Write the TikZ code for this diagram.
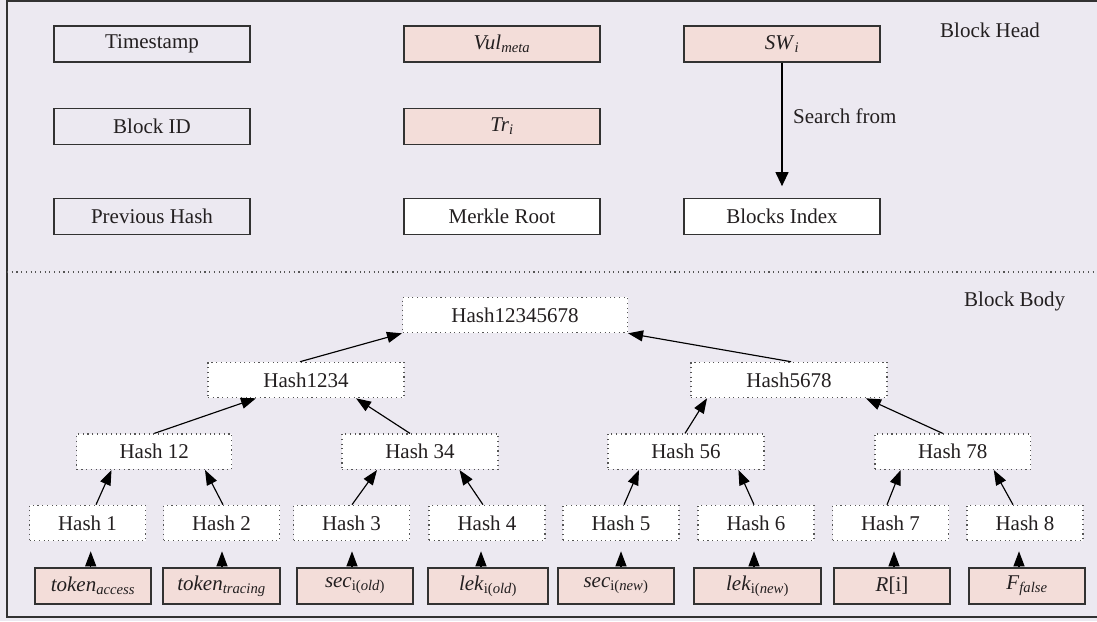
\documentclass[tikz,border=0pt]{standalone}
\usepackage{fontspec}
\setmainfont{Liberation Serif}
\usetikzlibrary{arrows.meta}
\definecolor{bgc}{RGB}{236,233,241}
\definecolor{pinkc}{RGB}{243,221,217}
\definecolor{linec}{RGB}{50,50,50}
\definecolor{dotc}{RGB}{85,85,85}
\definecolor{txtc}{RGB}{35,31,32}
\newcommand{\itx}[1]{\textit{#1}}
\newcommand{\subx}[1]{\textsubscript{#1}}
\begin{document}
\begin{tikzpicture}[x=1pt,y=-1pt,
  every node/.style={font=\fontsize{21}{24}\selectfont, text=txtc, inner sep=0pt},
  plainbox/.style={draw=linec, line width=1.1pt, minimum width=196pt, minimum height=36pt},
  pinkbox/.style={plainbox, fill=pinkc},
  whitebox/.style={plainbox, fill=white},
  hashbox/.style={draw=dotc, dash pattern=on 1.1pt off 3.6pt, line width=1.1pt, fill=white, minimum height=35.5pt},
  databox/.style={draw=linec, line width=1.1pt, fill=pinkc, minimum height=36pt},
  arr/.style={draw=black, line width=1.15pt, -{Triangle[length=15pt,width=11pt]}},
  bigarr/.style={draw=black, line width=1.15pt, -{Triangle[length=14pt,width=13pt]}},
  dotline/.style={draw=dotc, dash pattern=on 1.1pt off 3.6pt, line width=1.1pt}]
\useasboundingbox (0,0) rectangle (1097,621);
\fill[bgc] (0,0) rectangle (1097,621);
% outer frame, open on the right
\draw[linec, line width=1.4pt] (1110,0.8) -- (7,0.8) -- (7,617) -- (1110,617);
% head / body separator
\draw[dotline] (7,272) -- (1097,272);

% ---- block head ----
\node[plainbox] (ts)  at (152,44)    {Timestamp};
\node[plainbox] (bid) at (152,126.5) {Block ID};
\node[plainbox] (ph)  at (152,216.7) {Previous Hash};
\node[pinkbox]  (vul) at (502,44)    {\itx{Vul}\subx{\itx{meta}}};
\node[pinkbox]  (tr)  at (502,126.5) {\itx{Tr}\subx{\itx{i}}};
\node[whitebox] (mr)  at (502,216.7) {Merkle Root};
\node[pinkbox]  (sw)  at (782,44)    {\itx{SW}\subx{\itx{i}}};
\node[whitebox] (bi)  at (782,216.7) {Blocks Index};
\draw[bigarr] (sw.south) -- ([yshift=12pt]bi.north);
\node[anchor=west] (sf) at (793,116) {Search from};
\node[anchor=west] (bh) at (940,30) {Block Head};

% ---- block body: Merkle tree ----
\node[anchor=west] (bb) at (964,301) {Block Body};
\node[hashbox, minimum width=225pt] (root) at (515,315) {Hash12345678};
\node[hashbox, minimum width=196pt] (h1234) at (306,380) {Hash1234};
\node[hashbox, minimum width=196pt] (h5678) at (789,380) {Hash5678};
\node[hashbox, minimum width=155pt] (h12) at (154.25,451.7) {Hash 12};
\node[hashbox, minimum width=156pt] (h34) at (420,451.7) {Hash 34};
\node[hashbox, minimum width=156pt] (h56) at (686,451.7) {Hash 56};
\node[hashbox, minimum width=155.5pt] (h78) at (952.75,451.7) {Hash 78};
\foreach \n/\x in {1/87.5, 2/221.5, 3/351.5, 4/487, 5/621, 6/756, 7/890.5, 8/1025}
  \node[hashbox, minimum width=116pt] (h\n) at (\x,523) {Hash \n};

% data leaves
\node[databox, minimum width=116pt] (d1) at (93,586)    {\itx{token}\subx{\itx{access}}};
\node[databox, minimum width=117pt] (d2) at (221.5,586) {\itx{token}\subx{\itx{tracing}}};
\node[databox, minimum width=116pt] (d3) at (355,586)   {\itx{sec}\subx{i(\itx{old})}};
\node[databox, minimum width=120pt] (d4) at (488,586)   {\itx{lek}\subx{i(\itx{old})}};
\node[databox, minimum width=116pt] (d5) at (616,586)   {\itx{sec}\subx{i(\itx{new})}};
\node[databox, minimum width=127pt] (d6) at (757.5,586) {\itx{lek}\subx{i(\itx{new})}};
\node[databox, minimum width=116pt] (d7) at (892,586)   {\itx{R}[i]};
\node[databox, minimum width=116pt] (d8) at (1027,586)  {\itx{F}\subx{\itx{false}}};

% data -> leaf hashes
\foreach \n/\s in {1/-2.3, 2/0.5, 3/-3, 4/-7, 5/5, 6/-3.5, 7/2, 8/-8}
  \draw[arr, shorten >=10pt] ([xshift=\s pt]d\n.north) -- ([xshift=\s pt]d\n.north |- h\n.south);

% leaf hashes -> level 2
\draw[arr] ([xshift=8.5pt]h1.north) -- ([xshift=-42.75pt]h12.south);
\draw[arr] ([xshift=1.5pt]h2.north) -- ([xshift=50.75pt]h12.south);
\draw[arr] ([xshift=0.5pt]h3.north) -- ([xshift=-43pt]h34.south);
\draw[arr] ([xshift=-4pt]h4.north) -- ([xshift=39.5pt]h34.south);
\draw[arr] ([xshift=3pt]h5.north) -- ([xshift=-47pt]h56.south);
\draw[arr] ([xshift=-2pt]h6.north) -- ([xshift=52.4pt]h56.south);
\draw[arr] ([xshift=-3.5pt]h7.north) -- ([xshift=-52pt]h78.south);
\draw[arr] ([xshift=-12pt]h8.north) -- ([xshift=41pt]h78.south);

% level 2 -> level 1
\draw[arr] (h12.north) -- ([xshift=-50pt]h1234.south);
\draw[arr] ([xshift=-10pt]h34.north) -- ([xshift=50pt]h1234.south);
\draw[arr] ([xshift=-1pt]h56.north) -- ([xshift=-82pt]h5678.south);
\draw[arr] ([xshift=-10pt]h78.north) -- ([xshift=77pt]h5678.south);

% level 1 -> root
\draw[arr] ([xshift=-6pt]h1234.north) -- (root.south west);
\draw[arr] ([xshift=2pt]h5678.north) -- (root.south east);
\end{tikzpicture}
\end{document}
